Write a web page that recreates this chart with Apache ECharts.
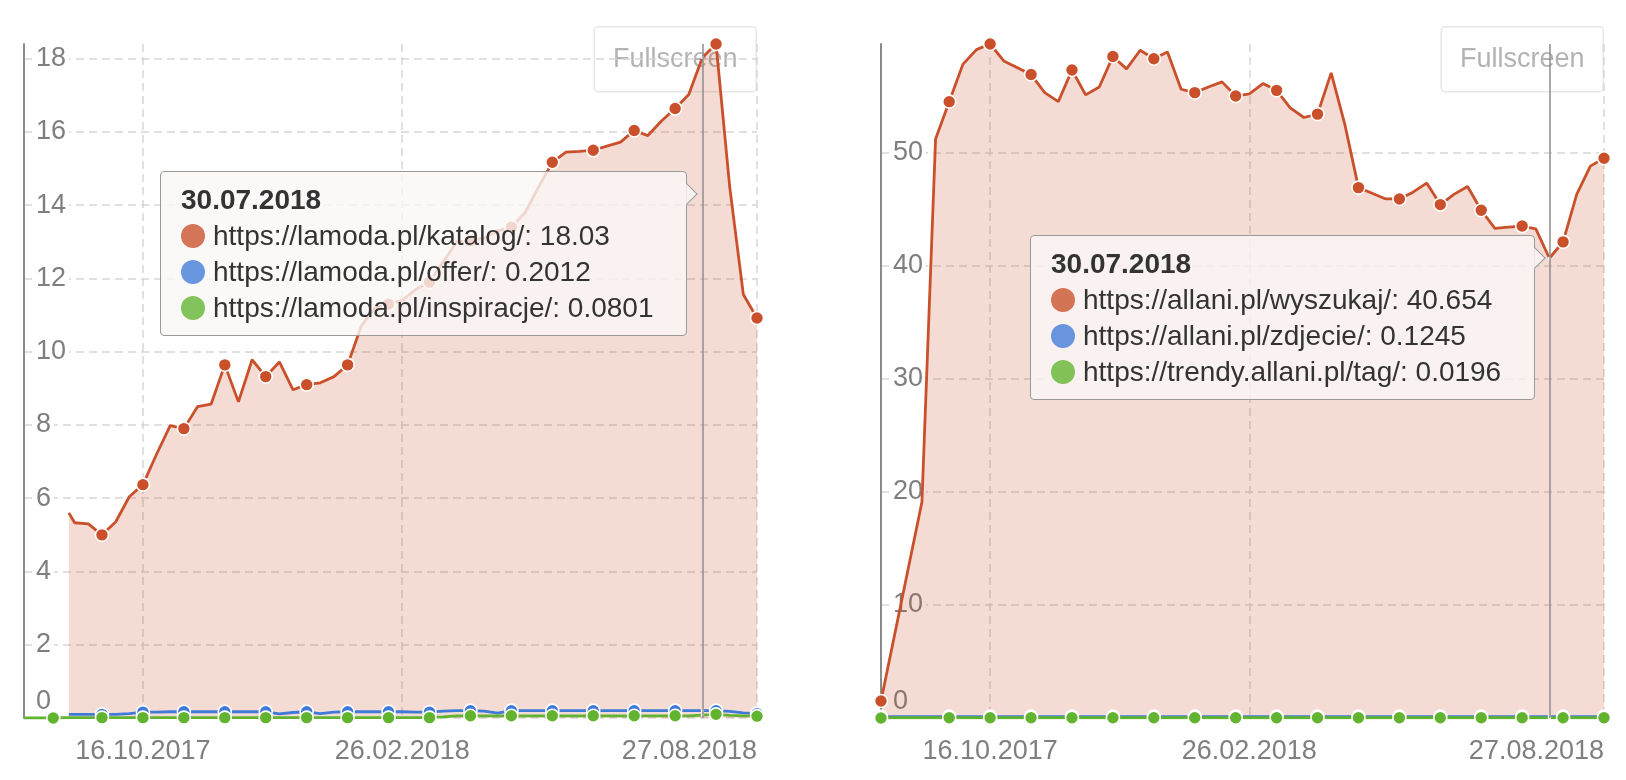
<!DOCTYPE html>
<html><head><meta charset="utf-8">
<script src="https://cdn.jsdelivr.net/npm/echarts@6/dist/echarts.min.js"></script>
<style>
html,body{margin:0;padding:0;background:#fff;}
#wrap{position:relative;width:1626px;height:780px;overflow:hidden;}
#c1{position:absolute;left:0;top:0;width:813px;height:780px;}
#c2{position:absolute;left:813px;top:0;width:813px;height:780px;}
</style></head><body>
<div id="wrap"><div id="c1"></div><div id="c2"></div></div>
<script>
const FONT = '"Liberation Sans", Arial, Helvetica, sans-serif';

// ---------- Left chart data ----------
const leftDates = ['2017-08-16','2017-08-31','2017-09-08','2017-09-11','2017-09-18','2017-09-25','2017-10-02','2017-10-09','2017-10-16','2017-10-23','2017-10-30','2017-11-06','2017-11-13','2017-11-20','2017-11-27','2017-12-04','2017-12-11','2017-12-18','2017-12-25','2018-01-01','2018-01-08','2018-01-15','2018-01-22','2018-01-29','2018-02-05','2018-02-12','2018-02-19','2018-02-26','2018-03-05','2018-03-12','2018-03-19','2018-03-26','2018-04-02','2018-04-09','2018-04-16','2018-04-23','2018-04-30','2018-05-07','2018-05-14','2018-05-21','2018-05-28','2018-06-04','2018-06-11','2018-06-18','2018-06-25','2018-07-02','2018-07-09','2018-07-16','2018-07-23','2018-07-30','2018-08-06','2018-08-13','2018-08-20','2018-08-27'];
const leftKatalog = [null,null,5.6,5.33,5.3,5.0,5.35,6.04,6.37,7.2,7.98,7.9,8.5,8.57,9.64,8.63,9.78,9.32,9.72,8.96,9.1,9.15,9.32,9.64,10.7,11.2,11.3,11.4,11.7,11.9,12.45,13.0,13.03,13.1,13.3,13.4,13.8,14.5,15.17,15.45,15.47,15.5,15.61,15.72,16.04,15.9,16.3,16.64,17.02,18.03,18.4,14.5,11.56,10.92];
const leftOffer = [null,null,0.1,0.1,0.1,0.1,0.1,0.12,0.16,0.16,0.17,0.17,0.17,0.17,0.17,0.17,0.17,0.17,0.11,0.15,0.17,0.12,0.16,0.17,0.17,0.17,0.17,0.17,0.16,0.16,0.19,0.2,0.2,0.19,0.13,0.2,0.2,0.2,0.2,0.2,0.2,0.2,0.2,0.2,0.2,0.2,0.2,0.2,0.2,0.2012,0.2,0.18,0.14,0.12];
const leftInspiracje = [0,0,0.01,0.01,0.01,0.01,0.01,0.01,0.01,0.01,0.01,0.01,0.01,0.01,0.01,0.01,0.01,0.01,0.01,0.01,0.01,0.01,0.01,0.01,0.01,0.01,0.01,0.01,0.01,0.01,0.03,0.06,0.06,0.06,0.06,0.06,0.06,0.06,0.06,0.06,0.06,0.06,0.06,0.06,0.06,0.06,0.06,0.06,0.06,0.0801,0.1,0.07,0.06,0.05];
const leftNames = ['https://lamoda.pl/katalog/','https://lamoda.pl/offer/','https://lamoda.pl/inspiracje/'];
const leftMarkerDates = ['2017-08-31','2017-09-25','2017-10-16','2017-11-06','2017-11-27','2017-12-18','2018-01-08','2018-01-29','2018-02-19','2018-03-12','2018-04-02','2018-04-23','2018-05-14','2018-06-04','2018-06-25','2018-07-16','2018-08-06','2018-08-27'];
const leftXRange = ['2017-08-16','2018-08-27'];
const leftYInterval = 2;

// ---------- Right chart data ----------
const rightDates = ['2017-08-21','2017-08-28','2017-09-04','2017-09-11','2017-09-18','2017-09-25','2017-10-02','2017-10-09','2017-10-16','2017-10-23','2017-10-30','2017-11-06','2017-11-13','2017-11-20','2017-11-27','2017-12-04','2017-12-11','2017-12-18','2017-12-25','2018-01-01','2018-01-08','2018-01-15','2018-01-22','2018-01-29','2018-02-05','2018-02-12','2018-02-19','2018-02-26','2018-03-05','2018-03-12','2018-03-19','2018-03-26','2018-04-02','2018-04-09','2018-04-16','2018-04-23','2018-04-30','2018-05-07','2018-05-14','2018-05-21','2018-05-28','2018-06-04','2018-06-11','2018-06-18','2018-06-25','2018-07-02','2018-07-09','2018-07-16','2018-07-23','2018-07-30','2018-08-06','2018-08-13','2018-08-20','2018-08-27'];
const rightWyszukaj = [1.5,null,null,19.1,51.2,54.5,57.8,59.1,59.6,58.1,57.5,56.9,55.3,54.5,57.3,55.1,55.8,58.5,57.4,59.05,58.3,58.9,55.6,55.3,55.8,56.25,55.0,55.2,56.1,55.5,53.95,53.1,53.4,57.05,52.5,46.9,46.4,45.9,45.9,46.5,47.3,45.4,46.3,47.0,44.9,43.3,43.4,43.5,43.25,40.654,42.1,46.3,48.8,49.5];
const rightZdjecie = [0.1,0.12,0.12,0.12,0.12,0.12,0.12,0.12,0.12,0.12,0.12,0.12,0.12,0.12,0.12,0.12,0.12,0.12,0.12,0.12,0.12,0.12,0.12,0.12,0.12,0.12,0.12,0.12,0.12,0.12,0.12,0.12,0.12,0.12,0.12,0.12,0.12,0.12,0.12,0.12,0.12,0.12,0.12,0.12,0.12,0.12,0.12,0.12,0.12,0.1245,0.12,0.12,0.12,0.12];
const rightTag = [0,0.02,0.02,0.02,0.02,0.02,0.02,0.02,0.02,0.02,0.02,0.02,0.02,0.02,0.02,0.02,0.02,0.02,0.02,0.02,0.02,0.02,0.02,0.02,0.02,0.02,0.02,0.02,0.02,0.02,0.02,0.02,0.02,0.02,0.02,0.02,0.02,0.02,0.02,0.02,0.02,0.02,0.02,0.02,0.02,0.02,0.02,0.02,0.02,0.0196,0.02,0.02,0.02,0.02];
const rightNames = ['https://allani.pl/wyszukaj/','https://allani.pl/zdjecie/','https://trendy.allani.pl/tag/'];
const rightMarkerDates = ['2017-08-21','2017-09-25','2017-10-16','2017-11-06','2017-11-27','2017-12-18','2018-01-08','2018-01-29','2018-02-19','2018-03-12','2018-04-02','2018-04-23','2018-05-14','2018-06-04','2018-06-25','2018-07-16','2018-08-06','2018-08-27'];
const rightXRange = ['2017-08-21','2018-08-27'];
const rightYInterval = 10;

// ---------- shared ----------
const xTickDates = ['2017-10-16','2018-02-26','2018-08-27'];
const tooltipDate = '2018-07-30';
const seriesColors = ['#c9502b','#3f7ad8','#62b430'];

const ts = s => { const [y,m,d] = s.split('-').map(Number); return new Date(y, m-1, d).getTime(); };
const p2 = n => (n < 10 ? '0' : '') + n;
const fmtDate = t => { const d = new Date(t); return p2(d.getDate()) + '.' + p2(d.getMonth()+1) + '.' + d.getFullYear(); };

const TIP_BG = 'rgba(250,247,246,0.8)';
const LABEL_COLOR = '#7f7f7f';

function build(el, cfg) {
  const chart = echarts.init(el, null, {renderer: 'canvas'});
  const mk = new Set(cfg.markerDates);
  const values = [cfg.a, cfg.b, cfg.c];
  const series = values.map((vals, si) => {
    const s = {
      type: 'line', name: cfg.names[si],
      data: cfg.dates.map((d, i) => [ts(d), vals[i]]),
      connectNulls: true, symbol: 'circle', showSymbol: true,
      symbolSize: (v, p) => (mk.has(cfg.dates[p.dataIndex]) && vals[p.dataIndex] != null) ? 13 : 0,
      itemStyle: {color: seriesColors[si], borderColor: '#fff', borderWidth: 1.6},
      lineStyle: {color: seriesColors[si], width: 2.8},
      emphasis: {disabled: true},
      animation: false,
      z: 2 + si
    };
    if (si === 0) s.areaStyle = {color: seriesColors[si], opacity: 0.2};
    return s;
  });
  const iv = cfg.yInterval;
  const tickVals = xTickDates.map(ts);
  const arrow = '<div style="position:absolute;right:-12px;top:' + cfg.arrowTop + 'px;width:12px;height:26px;overflow:hidden;">' +
    '<div style="position:absolute;left:-10px;top:3px;width:18px;height:18px;box-sizing:border-box;transform:rotate(45deg);background:' + TIP_BG + ';border-top:1.5px solid #9a9a9a;border-right:1.5px solid #9a9a9a;"></div></div>';
  const option = {
    animation: false,
    textStyle: {fontFamily: FONT},
    grid: {left: cfg.grid[0], right: cfg.grid[1], top: 44, bottom: 62, containLabel: false, outerBoundsMode: 'none'},
    xAxis: {
      type: 'value', min: ts(cfg.xRange[0]), max: ts(cfg.xRange[1]), scale: true,
      axisLine: {show: false},
      axisTick: {show: false, customValues: tickVals},
      axisLabel: {customValues: tickVals, formatter: v => fmtDate(v), fontSize: 27, color: LABEL_COLOR, fontFamily: FONT, margin: 20, alignMaxLabel: 'right', hideOverlap: false},
      splitLine: {show: true, lineStyle: {color: '#d6d6d6', width: 1.5, type: [8, 5]}}
    },
    yAxis: {
      type: 'value', min: 0, max: 'dataMax', interval: iv,
      axisLine: {show: true, lineStyle: {color: '#8a8a8a', width: 2}},
      axisTick: {show: false},
      axisLabel: {
        inside: true, margin: 9, fontSize: 27, color: LABEL_COLOR, fontFamily: FONT,
        formatter: v => {
          if (Math.abs(v / iv - Math.round(v / iv)) > 1e-6) return '';
          return v === 0 ? '{z|0}' : '{n|' + v + '}';
        },
        rich: {
          n: {backgroundColor: '#fff', padding: [2, 3, 2, 3], fontSize: 27, color: LABEL_COLOR, fontFamily: FONT},
          z: {padding: [0, 3, 32, 3], fontSize: 27, color: LABEL_COLOR, fontFamily: FONT}
        }
      },
      splitLine: {show: true, showMaxLine: false, lineStyle: {color: '#d6d6d6', width: 1.5, type: [8, 5]}}
    },
    tooltip: {
      trigger: 'axis', triggerOn: 'none', alwaysShowContent: true, transitionDuration: 0, showDelay: 0,
      backgroundColor: TIP_BG, borderColor: '#9a9a9a', borderWidth: 1.5,
      padding: [10, 33, 9, 20],
      extraCssText: 'border-radius:4px;box-shadow:none;',
      textStyle: {fontFamily: FONT, fontSize: 28, color: '#333'},
      axisPointer: {type: 'line', animation: false, lineStyle: {color: '#8c8c8c', width: 1.5, type: 'solid'}, label: {show: false}},
      position: (point, params, dom, rect, size) => {
        const px = chart.convertToPixel({xAxisIndex: 0}, ts(tooltipDate));
        return [px - size.contentSize[0] - cfg.tipGap, cfg.tipTop];
      },
      formatter: params => {
        const ff = FONT.replace(/"/g, "'");
        let h = '<div style="font-family:' + ff + ';font-weight:bold;line-height:36px;font-size:28px;color:#333">' + fmtDate(params[0].value[0]) + '</div>';
        params.forEach(p => {
          h += '<div style="font-family:' + ff + ';line-height:36px;font-size:28px;color:#333;white-space:nowrap">' +
            '<span style="display:inline-block;width:24px;height:24px;border-radius:12px;background:' + p.color + ';opacity:.78;vertical-align:middle;position:relative;top:-2px;margin-right:8px"></span>' +
            p.seriesName + ': ' + p.value[1] + '</div>';
        });
        return h + arrow;
      }
    },
    graphic: [{
      type: 'group', right: cfg.btnRight, top: 26, z: 100,
      children: [
        {type: 'rect', shape: {x: 0, y: 0, width: 162, height: 65, r: 4}, style: {fill: 'rgba(255,255,255,0.55)', stroke: '#e6e6e6', lineWidth: 1.5}},
        {type: 'text', x: 81, y: 33, style: {text: 'Fullscreen', fontSize: 27, fontFamily: FONT, fill: '#b3b3b3', align: 'center', verticalAlign: 'middle'}}
      ]
    }],
    series: series
  };
  chart.setOption(option);
  chart.dispatchAction({type: 'showTip', seriesIndex: 0, dataIndex: cfg.dates.indexOf(tooltipDate)});
  return chart;
}

build(document.getElementById('c1'), {
  dates: leftDates, a: leftKatalog, b: leftOffer, c: leftInspiracje, names: leftNames,
  markerDates: leftMarkerDates, xRange: leftXRange, yInterval: leftYInterval,
  grid: [24, 56], tipGap: 15, tipTop: 171, arrowTop: 10, btnRight: 56
});
build(document.getElementById('c2'), {
  dates: rightDates, a: rightWyszukaj, b: rightZdjecie, c: rightTag, names: rightNames,
  markerDates: rightMarkerDates, xRange: rightXRange, yInterval: rightYInterval,
  grid: [68, 22], tipGap: 14, tipTop: 235, arrowTop: 10, btnRight: 22
});
</script>
</body></html>
